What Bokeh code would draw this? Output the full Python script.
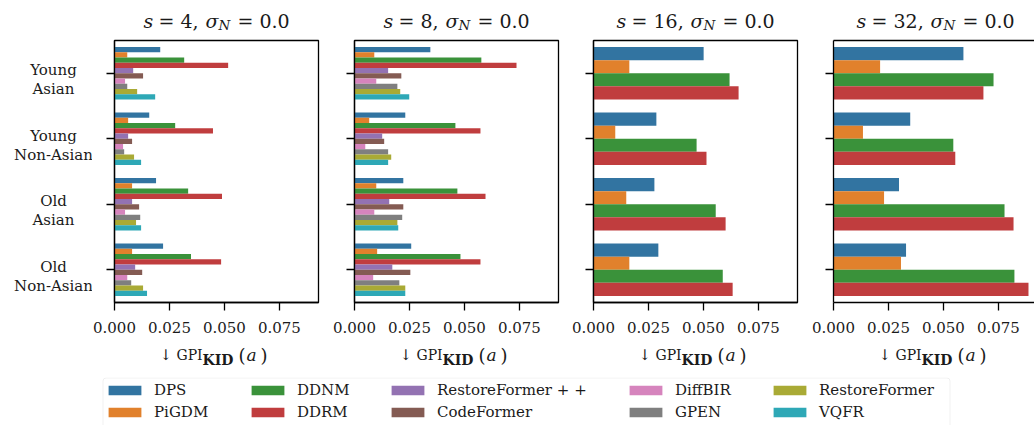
from bokeh.plotting import figure
from bokeh.models import (Range1d, FixedTicker, NumeralTickFormatter, Label, Legend,
                          LegendItem, LinearAxis, ColumnDataSource, BoxAnnotation)
from bokeh.layouts import row, column
from bokeh.embed import file_html
from bokeh.resources import INLINE

# ---------------- data ----------------
categories = [["Young", "Asian"], ["Young", "Non-Asian"], ["Old", "Asian"], ["Old", "Non-Asian"]]
methods = ["DPS", "PiGDM", "DDNM", "DDRM", "RestoreFormer + +", "CodeFormer",
           "DiffBIR", "GPEN", "RestoreFormer", "VQFR"]
colors = ["#3274a1", "#e1812c", "#3a923a", "#c03d3e", "#9372b2", "#845b53",
          "#d684bd", "#7f7f7f", "#a9aa35", "#2ea8b6"]
scales = [4, 8, 16, 32]
sigma_n = "0.0"
x_ticks = [0.0, 0.025, 0.05, 0.075]

# values: one list per method, in category order (YA, YNA, OA, ONA)
s4_values = [
    [0.0208, 0.0158, 0.0189, 0.0221],  # DPS
    [0.0058, 0.0062, 0.0080, 0.0080],  # PiGDM
    [0.0317, 0.0276, 0.0335, 0.0348],  # DDNM
    [0.0517, 0.0448, 0.0489, 0.0485],  # DDRM
    [0.0085, 0.0062, 0.0080, 0.0094],  # RestoreFormer++
    [0.0130, 0.0080, 0.0112, 0.0126],  # CodeFormer
    [0.0048, 0.0039, 0.0048, 0.0058],  # DiffBIR
    [0.0058, 0.0044, 0.0117, 0.0076],  # GPEN
    [0.0103, 0.0089, 0.0098, 0.0130],  # RestoreFormer
    [0.0185, 0.0121, 0.0121, 0.0148],  # VQFR
]
s8_values = [
    [0.0345, 0.0231, 0.0222, 0.0258],
    [0.0090, 0.0067, 0.0099, 0.0103],
    [0.0577, 0.0459, 0.0468, 0.0482],
    [0.0737, 0.0573, 0.0596, 0.0573],
    [0.0153, 0.0126, 0.0158, 0.0172],
    [0.0213, 0.0135, 0.0222, 0.0254],
    [0.0099, 0.0049, 0.0090, 0.0085],
    [0.0195, 0.0153, 0.0217, 0.0204],
    [0.0208, 0.0167, 0.0195, 0.0231],
    [0.0249, 0.0153, 0.0199, 0.0231],
]
s16_values = [
    [0.0501, 0.0286, 0.0277, 0.0295],
    [0.0163, 0.0099, 0.0149, 0.0163],
    [0.0619, 0.0469, 0.0556, 0.0588],
    [0.0660, 0.0514, 0.0601, 0.0633],
]
s32_values = [
    [0.0591, 0.0349, 0.0298, 0.0330],
    [0.0212, 0.0134, 0.0230, 0.0307],
    [0.0728, 0.0545, 0.0778, 0.0823],
    [0.0682, 0.0554, 0.0819, 0.0887],
]
panel_values = [s4_values, s8_values, s16_values, s32_values]

# ---------------- layout constants ----------------
XMAX = 0.0928
FW = 204          # frame width px
FH = 262          # frame height px
TITLE_H = 38
PANEL_H = 300
PANEL_TOP = 2
XLAB_H = 39
LEG_H = 48
FONT = "DejaVu Serif"
TXT = "#1a1a1a"
YLAB_W = 92
frame_lefts = [114, 354, 593, 833]
SHIFT = 6   # baseline correction (px)


def blank_fig(width, height, xr, yr):
    f = figure(width=width, height=height, output_backend="svg", toolbar_location=None,
               x_range=xr, y_range=yr, min_border_left=0, min_border_right=0,
               min_border_top=0, min_border_bottom=0)
    f.xgrid.visible = False
    f.ygrid.visible = False
    f.xaxis.visible = False
    f.yaxis.visible = False
    f.outline_line_color = None
    f.background_fill_color = "white"
    f.border_fill_color = "white"
    return f


def add_text(p, text, x, y, size, style="normal", align="left"):
    p.add_layout(Label(x=x, y=y, text=text, text_font=FONT,
                       text_font_size=f"{size}px", text_font_style=style,
                       text_color=TXT, text_align=align, text_baseline="alphabetic"))


def make_panel(values, width, left, right, frame_w):
    xmax = XMAX * frame_w / FW
    p = figure(width=width, height=PANEL_H, output_backend="svg", toolbar_location=None,
               x_range=Range1d(0, xmax), y_range=Range1d(3.5, -0.5),
               min_border_left=left, min_border_right=right,
               min_border_top=PANEL_TOP, min_border_bottom=PANEL_H - PANEL_TOP - FH)
    p.background_fill_color = "white"
    p.border_fill_color = "white"
    p.xgrid.visible = False
    p.ygrid.visible = False
    n = len(values)
    bw = 0.8 / n
    for j, vals in enumerate(values):
        off = -0.4 + bw * (j + 0.5)
        src = ColumnDataSource(dict(y=[i + off for i in range(len(categories))], right=vals))
        p.hbar(y="y", left=0, right="right", height=bw, source=src,
               fill_color=colors[j], line_color=None)
    for ax in (p.xaxis, p.yaxis):
        ax.axis_line_color = "black"
        ax.axis_line_width = 1.3
        ax.major_tick_line_color = "black"
        ax.major_tick_line_width = 1.3
        ax.major_tick_in = 0
        ax.major_tick_out = 8
        ax.minor_tick_line_color = None
    p.xaxis.ticker = FixedTicker(ticks=x_ticks)
    p.xaxis.formatter = NumeralTickFormatter(format="0.000")
    p.xaxis.major_label_text_font = FONT
    p.xaxis.major_label_text_font_size = "15px"
    p.xaxis.major_label_text_color = TXT
    p.xaxis.major_label_standoff = 11
    p.yaxis.ticker = FixedTicker(ticks=list(range(len(categories))))
    p.yaxis.major_label_overrides = {i: "" for i in range(len(categories))}
    p.yaxis.major_label_standoff = 0
    p.outline_line_color = "black"
    p.outline_line_width = 1.3
    return p


p1 = make_panel(panel_values[0], 240, 22, 14, 204)
p2 = make_panel(panel_values[1], 239, 22, 13, 204)
p3 = make_panel(panel_values[2], 240, 22, 14, 204)
p4 = make_panel(panel_values[3], 223, 22, 0, 201)
# last panel is cut at the window edge: only top/left/bottom spines
p4.outline_line_color = None
p4.add_layout(LinearAxis(ticker=FixedTicker(ticks=[]), axis_line_color="black",
                         axis_line_width=1.3, major_tick_line_color=None,
                         minor_tick_line_color=None), "above")

# ---------------- y category labels ----------------
ylab = blank_fig(YLAB_W, PANEL_H, Range1d(0, YLAB_W), Range1d(3.5, -0.5))
ylab.min_border_top = PANEL_TOP
ylab.min_border_bottom = PANEL_H - PANEL_TOP - FH
ypx = FH / 4.0
for i, (l1, l2) in enumerate(categories):
    add_text(ylab, l1, 53, i + (2 - 5) / ypx, 15, align="center")
    add_text(ylab, l2, 53, i + (21 - 5) / ypx, 15, align="center")

# ---------------- titles  s = 4, sigma_N = 0.0 ----------------
tfig = blank_fig(1034, TITLE_H, Range1d(0, 1034), Range1d(TITLE_H, 0))
for k, s in enumerate(scales):
    c = frame_lefts[k] + FW / 2.0
    extra = (len(str(s)) - 1) * 6
    add_text(tfig, "s", c - 73 - extra, 26 - SHIFT, 19, "italic")
    add_text(tfig, f"= {s},", c - 58 - extra, 26 - SHIFT, 19)
    add_text(tfig, "σ", c - 11 + extra, 26 - SHIFT, 19, "italic")
    add_text(tfig, "N", c + 2 + extra, 30 - SHIFT, 13.5, "italic")
    add_text(tfig, f"= {sigma_n}", c + 21 + extra, 26 - SHIFT, 19)

# ---------------- x labels  ↓ GPI_KID(a) ----------------
xfig = blank_fig(1034, XLAB_H, Range1d(0, 1034), Range1d(XLAB_H, 0))
for k in range(4):
    x0 = frame_lefts[k]
    add_text(xfig, "↓", x0 + 45, 22 - SHIFT, 15)
    add_text(xfig, "GPI", x0 + 62, 22 - SHIFT, 14)
    add_text(xfig, "KID", x0 + 88, 27 - SHIFT, 14, "bold")
    add_text(xfig, "(", x0 + 124, 23 - SHIFT, 18)
    add_text(xfig, "a", x0 + 132, 22 - SHIFT, 17, "italic")
    add_text(xfig, ")", x0 + 146, 23 - SHIFT, 18)

# ---------------- legend ----------------
lg = blank_fig(1034, LEG_H, Range1d(0, 1034), Range1d(LEG_H, 0))
lg.add_layout(BoxAnnotation(left=102.5, right=949.5, top=0.5, bottom=LEG_H + 20,
                            fill_alpha=0, line_color="#cccccc", line_width=1.0,
                            border_radius=3))

rends = []
for j, m in enumerate(methods):
    src = ColumnDataSource(dict(y=list(range(len(categories))), right=s4_values[j]))
    r = lg.hbar(y="y", left=0, right="right", height=0.1, source=src,
                fill_color=colors[j], line_color=None, visible=False)
    rends.append(r)

col_x = [104, 247, 387, 625, 769]
for cidx in range(5):
    items = [LegendItem(label=methods[2 * cidx + t], renderers=[rends[2 * cidx + t]]) for t in range(2)]
    leg = Legend(items=items, location=(col_x[cidx], 3), orientation="vertical",
                 glyph_width=41, glyph_height=12, label_standoff=9, spacing=2,
                 padding=0, margin=0, border_line_color=None, background_fill_alpha=0,
                 inactive_fill_alpha=0,
                 label_text_font=FONT, label_text_font_size="15px", label_text_color=TXT,
                 label_height=20)
    lg.add_layout(leg, "center")

layout = column(tfig, row(ylab, p1, p2, p3, p4), xfig, lg)
open("out.html", "w").write(file_html(layout, INLINE))
